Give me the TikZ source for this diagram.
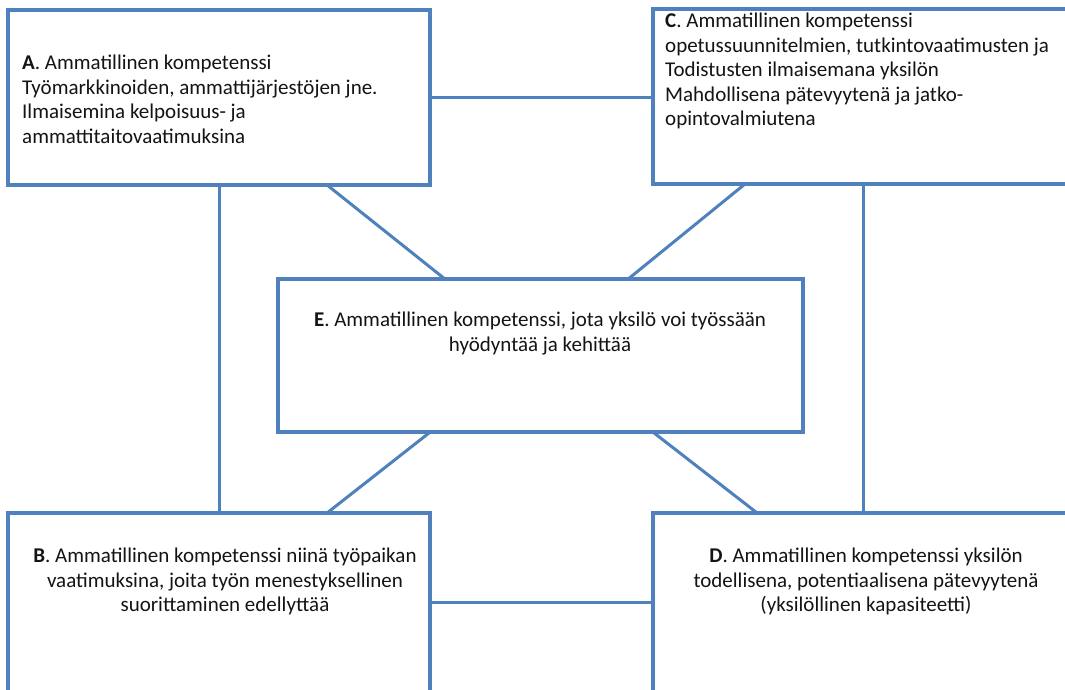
\documentclass[tikz,border=0pt]{standalone}
\usepackage{fontspec}
\setmainfont{Carlito}
\usetikzlibrary{calc}
\definecolor{edge}{RGB}{79,129,189}
\definecolor{ink}{RGB}{20,20,20}
\begin{document}
\begin{tikzpicture}[x=1pt,y=-1pt,
  box/.style={draw=edge, line width=3.5pt, fill=white, rectangle, inner sep=0pt, outer sep=0pt, anchor=north west},
  link/.style={draw=edge, line width=3pt},
  txt/.style={text=ink, inner sep=0pt, font=\fontsize{21pt}{24.5pt}\selectfont}]
\useasboundingbox (0,0) rectangle (1065,689);
\fill[white] (0,0) rectangle (1065,689);
% boxes
\node[box, minimum width=422pt, minimum height=175pt] (A) at (8,10) {};
\node[box, minimum width=420pt, minimum height=175pt] (C) at (653,9) {};
\node[box, minimum width=422pt, minimum height=190pt] (B) at (8,513) {};
\node[box, minimum width=420pt, minimum height=190pt] (D) at (653,513) {};
\node[box, minimum width=525pt, minimum height=153pt] (E) at (278,279) {};
% connectors
\draw[link] (A.east) -- (A.east -| C.west);
\draw[link] ($(B.north east)!0.47!(B.south east)$) coordinate (bd) -- (bd -| D.west);
\draw[link] (A.south) -- (B.north);
\draw[link] (C.south) -- (C.south |- D.north);
\draw[link] ($(A.south west)!0.756!(A.south east)$) -- ($(E.north west)!0.318!(E.north east)$);
\draw[link] ($(C.south west)!0.219!(C.south east)$) -- ($(E.north west)!0.667!(E.north east)$);
\draw[link] ($(B.north west)!0.756!(B.north east)$) -- ($(E.south west)!0.29!(E.south east)$);
\draw[link] ($(D.north west)!0.248!(D.north east)$) -- ($(E.south west)!0.714!(E.south east)$);
% texts
\node[txt, anchor=north west, align=left] (tA) at (22,55) {\textbf{A}. Ammatillinen kompetenssi\\Työmarkkinoiden, ammattijärjestöjen jne.\\Ilmaisemina kelpoisuus- ja\\ammattitaitovaatimuksina};
\node[txt, anchor=north west, align=left] (tC) at (665,13) {\textbf{C}. Ammatillinen kompetenssi\\opetussuunnitelmien, tutkintovaatimusten ja\\Todistusten ilmaisemana yksilön\\Mahdollisena pätevyytenä ja jatko-\\opintovalmiutena};
\node[txt, anchor=north, align=center] (tB) at (225,548) {\textbf{B}. Ammatillinen kompetenssi niinä työpaikan\\vaatimuksina, joita työn menestyksellinen\\suorittaminen edellyttää};
\node[txt, anchor=north, align=center] (tD) at (866,548) {\textbf{D}. Ammatillinen kompetenssi yksilön\\todellisena, potentiaalisena pätevyytenä\\(yksilöllinen kapasiteetti)};
\node[txt, anchor=north, align=center] (tE) at (540,312) {\textbf{E}. Ammatillinen kompetenssi, jota yksilö voi työssään\\hyödyntää ja kehittää};
\end{tikzpicture}
\end{document}
